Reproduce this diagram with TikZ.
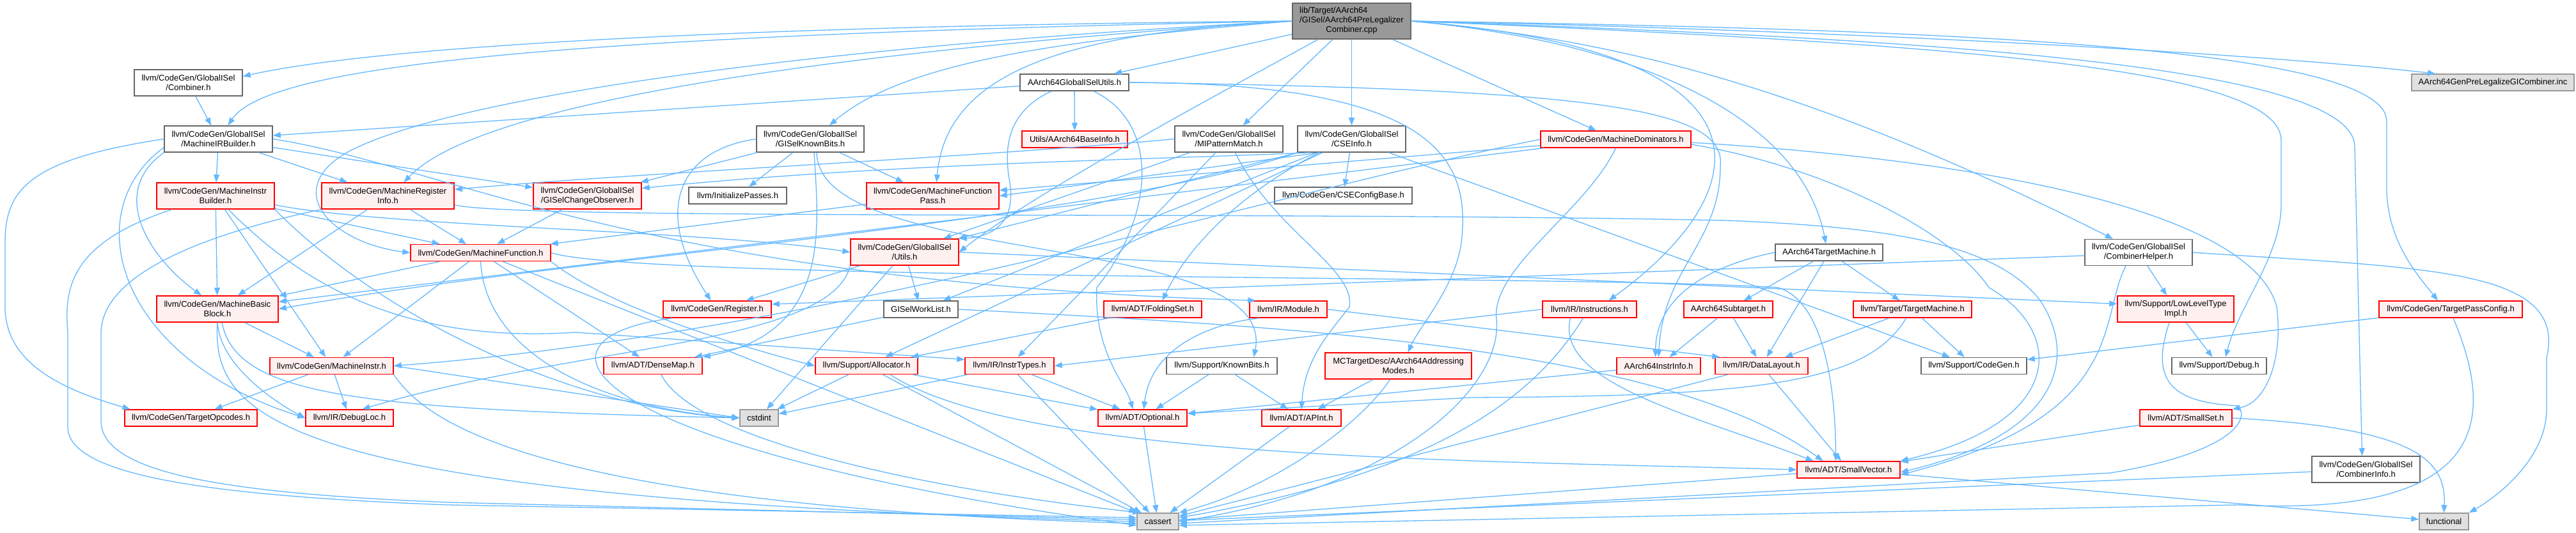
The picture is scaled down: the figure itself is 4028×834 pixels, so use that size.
\documentclass[tikz,border=0pt]{standalone}
\usepackage{fontspec}
\setmainfont{Liberation Sans}
\usetikzlibrary{arrows.meta}
\definecolor{edgec}{HTML}{63B8FF}
\definecolor{redb}{HTML}{FF0000}
\definecolor{redf}{HTML}{FFF0F0}
\definecolor{grayb}{HTML}{666666}
\definecolor{extf}{HTML}{E0E0E0}
\definecolor{extb}{HTML}{999999}
\definecolor{mainf}{HTML}{999999}
\tikzset{
 nd/.style={rectangle, inner sep=0pt, line width=1.5pt, align=center, font=\fontsize{13}{15}\selectfont, text=black},
 sz/.style 2 args={minimum width=#1pt, minimum height=#2pt},
 wn/.style={nd, draw=grayb, fill=white},
 rn/.style={nd, draw=redb, fill=redf},
 xn/.style={nd, draw=extb, fill=extf},
 mn/.style={nd, draw=grayb, fill=mainf},
 lnk/.style={draw=edgec, line width=1.3pt, -{Triangle[length=12pt,width=9pt]}},
}
\begin{document}
\begin{tikzpicture}[x=1pt,y=-1pt]
\useasboundingbox[fill=white] (0,0) rectangle (4028,834);
% nodes
\node[mn, sz={185}{56}] (main) at (2113.5,33) {\begin{tabular}{@{}l@{}}lib/Target/AArch64\\/GISel/AArch64PreLegalizer\\\multicolumn{1}{@{}c@{}}{Combiner.cpp}\end{tabular}};
\node[wn, sz={169}{41}] (comb) at (294.5,129.5) {llvm/CodeGen/GlobalISel\\/Combiner.h};
\node[wn, sz={169}{41}] (mirb) at (341.5,217.5) {llvm/CodeGen/GlobalISel\\/MachineIRBuilder.h};
\node[rn, sz={184}{41}] (mib) at (337,306.5) {llvm/CodeGen/MachineInstr\\Builder.h};
\node[rn, sz={207}{41}] (mri) at (606.5,306.5) {llvm/CodeGen/MachineRegister\\Info.h};
\node[rn, sz={219}{26}] (mf) at (751.5,395.5) {llvm/CodeGen/MachineFunction.h};
\node[rn, sz={169}{41}] (gco) at (918.5,306.5) {llvm/CodeGen/GlobalISel\\/GISelChangeObserver.h};
\node[wn, sz={153}{26}] (initp) at (1153.5,306) {llvm/InitializePasses.h};
\node[wn, sz={168}{41}] (gkb) at (1267,217.5) {llvm/CodeGen/GlobalISel\\/GISelKnownBits.h};
\node[rn, sz={169}{41}] (utils) at (1414.5,394.5) {llvm/CodeGen/GlobalISel\\/Utils.h};
\node[wn, sz={170}{26}] (agu) at (1680,129) {AArch64GlobalISelUtils.h};
\node[rn, sz={165}{26}] (baseinfo) at (1680.5,218) {Utils/AArch64BaseInfo.h};
\node[wn, sz={169}{41}] (mipm) at (1921.5,217.5) {llvm/CodeGen/GlobalISel\\/MIPatternMatch.h};
\node[rn, sz={207}{41}] (mfp) at (1458.5,306.5) {llvm/CodeGen/MachineFunction\\Pass.h};
\node[wn, sz={215}{26}] (csecfg) at (2100.5,306) {llvm/CodeGen/CSEConfigBase.h};
\node[wn, sz={169}{41}] (cseinfo) at (2113.5,217.5) {llvm/CodeGen/GlobalISel\\/CSEInfo.h};
\node[rn, sz={235}{26}] (mdom) at (2526.5,218) {llvm/CodeGen/MachineDominators.h};
\node[wn, sz={168}{26}] (atm) at (2860,395) {AArch64TargetMachine.h};
\node[wn, sz={168}{41}] (chelp) at (3344,395) {llvm/CodeGen/GlobalISel\\/CombinerHelper.h};
\node[xn, sz={254}{26}] (geninc) at (3898,129) {AArch64GenPreLegalizeGICombiner.inc};
\node[rn, sz={190}{41}] (mbb) at (340,483.5) {llvm/CodeGen/MachineBasic\\Block.h};
\node[rn, sz={193}{26}] (mi) at (518.5,572.5) {llvm/CodeGen/MachineInstr.h};
\node[rn, sz={207}{26}] (topc) at (298.5,654) {llvm/CodeGen/TargetOpcodes.h};
\node[rn, sz={137}{26}] (dloc) at (546.5,654) {llvm/IR/DebugLoc.h};
\node[rn, sz={169}{26}] (reg) at (1121.5,484) {llvm/CodeGen/Register.h};
\node[rn, sz={154}{26}] (dmap) at (1021,572.5) {llvm/ADT/DenseMap.h};
\node[rn, sz={160}{26}] (alloc) at (1355,572.5) {llvm/Support/Allocator.h};
\node[xn, sz={60}{26}] (cstdint) at (1187,654) {cstdint};
\node[wn, sz={116}{26}] (gwl) at (1440,484) {GISelWorkList.h};
\node[rn, sz={153}{26}] (fset) at (1802.5,484) {llvm/ADT/FoldingSet.h};
\node[rn, sz={121}{26}] (module) at (2014.5,484) {llvm/IR/Module.h};
\node[rn, sz={139}{26}] (itypes) at (1578.5,572.5) {llvm/IR/InstrTypes.h};
\node[wn, sz={173}{26}] (kbits) at (1910.5,572.5) {llvm/Support/KnownBits.h};
\node[rn, sz={139}{26}] (optional) at (1786.5,654) {llvm/ADT/Optional.h};
\node[rn, sz={124}{26}] (apint) at (2035,654) {llvm/ADT/APInt.h};
\node[xn, sz={65}{26}] (cassert) at (1810.5,816) {cassert};
\node[rn, sz={147}{26}] (instrs) at (2485.5,484) {llvm/IR/Instructions.h};
\node[rn, sz={139}{26}] (subt) at (2702.5,484) {AArch64Subtarget.h};
\node[rn, sz={229}{41}] (addrm) at (2186.5,572.5) {MCTargetDesc/AArch64Addressing\\Modes.h};
\node[rn, sz={131}{26}] (ainfo) at (2593.5,572.5) {AArch64InstrInfo.h};
\node[rn, sz={145}{26}] (dlayout) at (2754.5,572.5) {llvm/IR/DataLayout.h};
\node[rn, sz={185}{26}] (tmach) at (2990.5,484) {llvm/Target/TargetMachine.h};
\node[wn, sz={165}{26}] (cgen) at (3086.5,572.5) {llvm/Support/CodeGen.h};
\node[rn, sz={161}{26}] (svec) at (2890.5,735) {llvm/ADT/SmallVector.h};
\node[rn, sz={182}{41}] (llt) at (3402,483.5) {llvm/Support/LowLevelType\\Impl.h};
\node[rn, sz={144}{26}] (sset) at (3418,654) {llvm/ADT/SmallSet.h};
\node[rn, sz={224}{26}] (tpc) at (3832,484) {llvm/CodeGen/TargetPassConfig.h};
\node[wn, sz={148}{26}] (debug) at (3470,572.5) {llvm/Support/Debug.h};
\node[wn, sz={169}{41}] (cinfo) at (3699.5,734.5) {llvm/CodeGen/GlobalISel\\/CombinerInfo.h};
\node[xn, sz={77}{26}] (functional) at (3821.5,816) {functional};
% edges from main
\draw[lnk] (main) -- (agu);
\draw[lnk] (main.west) .. controls (1200,40) and (600,70) .. ([yshift=10pt]comb.east);
\draw[lnk] (main.west) .. controls (900,55) and (420,100) .. ([xshift=15pt]mirb.north);
\draw[lnk] (main.west) .. controls (1700,60) and (1420,90) .. ([xshift=30pt]gkb.north);
\draw[lnk] (main) -- (mipm);
\draw[lnk] (main) -- (cseinfo);
\draw[lnk] (main) -- (mdom);
\draw[lnk] (main.east) .. controls (2600,70) and (2820,200) .. ([xshift=-5pt]atm.north);
\draw[lnk] (main.east) .. controls (2500,60) and (2800,120) .. ([xshift=-40pt]chelp.north);
\draw[lnk] (main.east) .. controls (3000,60) and (3682,100) .. (3682,230) -- ([xshift=-6pt]cinfo.north);
\draw[lnk] (main.east) .. controls (3000,45) and (3732,70) .. (3732,190) -- (3732,300) .. controls (3735,380) and (3780,430) .. ([xshift=-20pt]tpc.north);
\draw[lnk] (main.east) .. controls (3100,70) and (3567,110) .. (3567,220) -- (3567,320) .. controls (3567,400) and (3500,480) .. ([xshift=10pt]debug.north);
\draw[lnk] (main.east) .. controls (2800,45) and (3500,80) .. ([xshift=-90pt]geninc.north);
\draw[lnk] (main) .. controls (1900,150) and (1620,300) .. (utils.east);
\draw[lnk] (main.west) .. controls (1300,70) and (700,150) .. (540,240) .. controls (440,300) and (520,380) .. (mf.west);
\draw[lnk] (main.west) .. controls (1700,50) and (1480,100) .. ([xshift=6pt]mfp.north);
\draw[lnk] (main.west) .. controls (1300,80) and (750,160) .. ([xshift=25pt]mri.north);
\draw[lnk] (main.east) .. controls (2800,80) and (2750,300) .. ([xshift=30pt]instrs.north);
% Combiner, MachineIRBuilder
\draw[lnk] (comb) -- (mirb);
\draw[lnk] (mirb) -- (mib);
\draw[lnk] (mirb) -- (mri);
\draw[lnk] (mirb) -- (gco);
\draw[lnk] (mirb.south west) .. controls (170,300) and (230,400) .. ([xshift=-25pt]mbb.north);
\draw[lnk] (mirb.west) .. controls (40,250) and (8,300) .. (8,380) -- (8,480) .. controls (8,570) and (100,610) .. ([xshift=-95pt]topc.north);
\draw[lnk] ([yshift=8pt]mirb.south west) .. controls (120,330) and (180,560) .. (dloc.west);
\draw[lnk] (mirb.east) .. controls (700,260) and (1000,440) .. ([xshift=10pt]module.north west);
% MachineInstrBuilder
\draw[lnk] (mib) -- (mbb);
\draw[lnk] (mib) -- (mf);
\draw[lnk] (mib) -- (mi);
\draw[lnk] ([yshift=-14pt]mib.east) .. controls (600,355) and (1100,360) .. (utils.west);
\draw[lnk] ([xshift=20pt]mib.south) .. controls (450,420) and (600,540) .. (900,520) -- ([yshift=10pt]itypes.west);
\draw[lnk] ([xshift=-68pt]mib.south) .. controls (110,380) and (100,450) .. (106,520) -- (106,670) .. controls (110,740) and (300,775) .. (700,790) -- ([yshift=6pt]cassert.west);
\draw[lnk] (mib.south east) .. controls (600,500) and (900,640) .. (cstdint.west);
% MachineRegisterInfo
\draw[lnk] (mri) -- (mbb);
\draw[lnk] (mri) -- (mf);
\draw[lnk] (mri.south west) .. controls (350,360) and (160,420) .. (158,520) -- (158,660) .. controls (160,740) and (350,772) .. (700,786) -- ([yshift=3pt]cassert.west);
\draw[lnk] ([yshift=-14pt]mri.east) .. controls (800,345) and (2000,330) .. (2700,345) .. controls (2950,355) and (3120,380) .. (3190,470) .. controls (3250,560) and (3220,680) .. ([yshift=-4pt]svec.east);
% MachineFunction
\draw[lnk] (mf) -- (mbb);
\draw[lnk] (mf) -- (mi);
\draw[lnk] (mf) -- (dmap);
\draw[lnk] (mf.south east) .. controls (950,480) and (1150,540) .. (alloc.west);
\draw[lnk] (mf.east) .. controls (1000,440) and (2500,430) .. (2780,450) .. controls (2850,470) and (2870,600) .. ([xshift=-20pt]svec.north);
\draw[lnk] (mf) -- (cassert.north west);
\draw[lnk] (mf.south) .. controls (760,560) and (950,640) .. (cstdint.west);
\draw[lnk] (gco) -- (mf);
\draw[lnk] (mfp) -- (mf);
% GISelKnownBits
\draw[lnk] (gkb) -- (initp);
\draw[lnk] (gkb) -- (gco);
\draw[lnk] (gkb) -- (mfp);
\draw[lnk] ([xshift=10pt]gkb.south) .. controls (1280,420) and (2000,360) .. ([xshift=50pt]kbits.north);
\draw[lnk] (gkb.west) .. controls (1060,235) and (1020,330) .. ([xshift=-10pt]reg.north);
\draw[lnk] ([xshift=6pt]gkb.south) .. controls (1280,360) and (1300,520) .. (dmap.north east);
% GlobalISel/Utils.h
\draw[lnk] (utils) -- (gwl);
\draw[lnk] (utils) -- (reg);
\draw[lnk] (utils.south west) .. controls (1300,540) and (900,540) .. ([xshift=20pt]dloc.north);
\draw[lnk] (utils.east) -- ([yshift=8pt]llt.west);
\draw[lnk] (utils) -- (cstdint);
% AArch64GlobalISelUtils.h
\draw[lnk] (agu) -- (baseinfo);
\draw[lnk] (agu.east) .. controls (2250,130) and (2300,250) .. (2285,380) .. controls (2275,450) and (2220,510) .. ([xshift=15pt]addrm.north);
\draw[lnk] (agu.east) .. controls (2500,140) and (2700,170) .. (2690,260) .. controls (2690,380) and (2600,420) .. (ainfo.north);
\draw[lnk] ([xshift=30pt]agu.south) .. controls (1810,190) and (1810,330) .. (1715,450) .. controls (1710,550) and (1760,600) .. ([xshift=-15pt]optional.north);
\draw[lnk] (agu) -- (mirb);
\draw[lnk] ([xshift=-36pt]agu.south) .. controls (1575,175) and (1570,230) .. (1578,280) .. controls (1590,340) and (1560,370) .. (utils.north east);
% MIPatternMatch
\draw[lnk] (mipm) -- (utils);
\draw[lnk] (mipm.west) .. controls (1500,248) and (1000,270) .. ([yshift=10pt]mri.east);
\draw[lnk] (mipm) -- (itypes);
\draw[lnk] ([xshift=10pt]mipm.south) .. controls (1990,360) and (2120,420) .. (2110,480) .. controls (2080,520) and (2040,560) .. (apint.north);
% CSEInfo
\draw[lnk] (cseinfo) -- (csecfg);
\draw[lnk] ([xshift=-50pt]cseinfo.south) .. controls (1980,280) and (1870,360) .. ([xshift=15pt]fset.north);
\draw[lnk] ([xshift=20pt]cseinfo.south west) .. controls (1800,250) and (1400,255) .. ([yshift=12pt]gco.east);
\draw[lnk] (cseinfo) -- (gwl);
\draw[lnk] (cseinfo) -- (utils);
\draw[lnk] (cseinfo.south west) .. controls (1700,350) and (900,400) .. (mbb.east);
\draw[lnk] ([xshift=35pt]cseinfo.south west) -- (mfp.east);
\draw[lnk] (cseinfo) -- (alloc);
\draw[lnk] (cseinfo) -- (cgen);
% MachineDominators
\draw[lnk] (mdom) -- (mfp);
\draw[lnk] (mdom) -- (mbb);
\draw[lnk] (mdom.west) .. controls (2000,300) and (1300,520) .. (mi.east);
\draw[lnk] ([yshift=-5pt]mdom.east) .. controls (3100,250) and (3520,330) .. (3560,480) .. controls (3570,560) and (3545,630) .. (sset.north east);
\draw[lnk] ([yshift=-8pt]mdom.east) .. controls (2850,260) and (3050,360) .. (3110,450) .. controls (3230,520) and (3230,660) .. (svec.north east);
\draw[lnk] (mdom.south) .. controls (2480,330) and (2330,420) .. (2340,500) .. controls (2350,600) and (2200,760) .. (cassert.east);
% AArch64TargetMachine, Subtarget, TargetMachine
\draw[lnk] (atm) -- (subt);
\draw[lnk] (atm) -- (dlayout);
\draw[lnk] (atm) -- (tmach);
\draw[lnk] (atm.west) .. controls (2700,410) and (2590,450) .. ([xshift=-5pt]ainfo.north);
\draw[lnk] (subt) -- (ainfo);
\draw[lnk] (subt) -- (dlayout);
\draw[lnk] (tmach) -- (dlayout);
\draw[lnk] (tmach) -- (cgen);
\draw[lnk] ([xshift=-10pt]tmach.south) .. controls (2920,600) and (2750,620) .. (2300,622) -- ([yshift=7pt]optional.east);
% CombinerHelper
\draw[lnk] (chelp) -- (llt);
\draw[lnk] ([xshift=-20pt]chelp.south) .. controls (3280,500) and (3330,650) .. ([yshift=-8pt]svec.east);
\draw[lnk] ([yshift=-5pt]chelp.west) -- ([yshift=8pt]reg.east);
\draw[lnk] (chelp.east) .. controls (3800,420) and (4015,420) .. (3982,560) -- (3982,640) .. controls (3982,720) and (3900,780) .. (functional.north east);
% TargetPassConfig, CombinerInfo, LowLevelTypeImpl, SmallSet
\draw[lnk] (tpc) -- (cgen);
\draw[lnk] ([xshift=4pt]tpc.south) .. controls (3900,650) and (3900,810) .. (3500,790) -- ([yshift=-6pt]cassert.east);
\draw[lnk] (cinfo) -- (cassert);
\draw[lnk] (llt) -- (debug);
\draw[lnk] ([xshift=-10pt]llt.south) .. controls (3360,600) and (3400,630) .. (3500,635) .. controls (3520,660) and (3480,710) .. (3300,740) -- ([yshift=-3pt]cassert.east);
\draw[lnk] (sset) -- (svec);
\draw[lnk] (sset.east) .. controls (3780,670) and (3825,720) .. (functional.north);
% MachineBasicBlock, MachineInstr
\draw[lnk] (mbb) -- (mi);
\draw[lnk] (mbb.south) .. controls (345,580) and (450,640) .. (dloc.west);
\draw[lnk] (mbb.south) .. controls (330,660) and (450,780) .. (cassert.west);
\draw[lnk] ([xshift=7pt]mbb.south) .. controls (370,620) and (560,640) .. (cstdint.west);
\draw[lnk] (mi) -- (topc);
\draw[lnk] (mi) -- (dloc);
\draw[lnk] (mi.south east) .. controls (660,650) and (800,790) .. ([yshift=-3pt]cassert.west);
\draw[lnk] (mi.east) -- (cstdint.west);
% Register, DenseMap, Allocator, GISelWorkList
\draw[lnk] ([xshift=-70pt]reg.south) .. controls (800,530) and (900,700) .. ([yshift=-6pt]cassert.west);
\draw[lnk] ([xshift=13pt]dmap.south) .. controls (1080,680) and (1400,760) .. ([xshift=6pt]cassert.north west);
\draw[lnk] (alloc) -- (cstdint);
\draw[lnk] (alloc) -- (cassert);
\draw[lnk] (alloc) -- (optional);
\draw[lnk] ([xshift=37pt]alloc.south) .. controls (1600,720) and (2300,720) .. (svec.west);
\draw[lnk] (gwl) -- (dmap);
\draw[lnk] (gwl.east) .. controls (2000,510) and (2600,540) .. ([xshift=-40pt]svec.north);
% Instructions, InstrTypes, FoldingSet, Module, KnownBits
\draw[lnk] (instrs.west) -- (itypes.east);
\draw[lnk] ([xshift=-30pt]instrs.south) .. controls (2430,600) and (2650,650) .. ([xshift=-55pt]svec.north);
\draw[lnk] ([xshift=-10pt]instrs.south) .. controls (2400,620) and (2250,740) .. ([yshift=6pt]cassert.east);
\draw[lnk] (itypes) -- (optional);
\draw[lnk] (itypes) -- (cassert);
\draw[lnk] (itypes) -- (cstdint);
\draw[lnk] (fset) -- (alloc);
\draw[lnk] ([xshift=-45pt]module.south) .. controls (1900,505) and (1800,540) .. ([xshift=2pt]optional.north);
\draw[lnk] (module.east) -- ([xshift=8pt]dlayout.north west);
\draw[lnk] (kbits) -- (optional);
\draw[lnk] (kbits) -- (apint);
% leaves
\draw[lnk] (optional) -- (cassert);
\draw[lnk] (apint) -- (cassert);
\draw[lnk] (addrm) -- (apint);
\draw[lnk] ([xshift=-13pt]addrm.south) .. controls (2130,660) and (2000,760) .. (cassert.north east);
\draw[lnk] (ainfo) -- (optional);
\draw[lnk] (dlayout) -- (svec);
\draw[lnk] (dlayout) -- (cassert);
\draw[lnk] (svec) -- (cassert);
\draw[lnk] (svec) -- (functional);
\end{tikzpicture}
\end{document}
